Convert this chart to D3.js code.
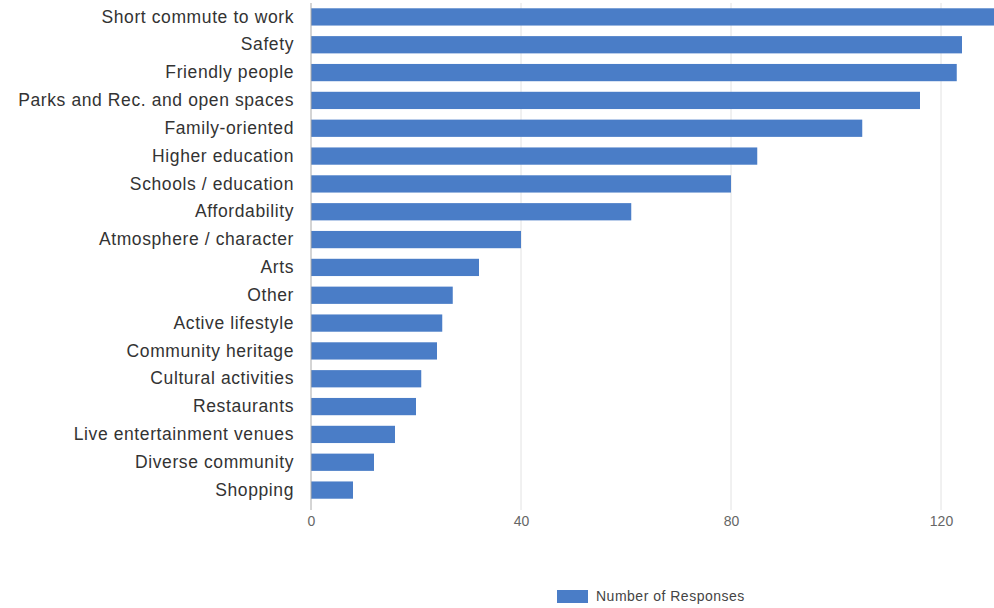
<!DOCTYPE html>
<html>
<head>
<meta charset="utf-8">
<script src="https://cdn.jsdelivr.net/npm/d3@7"></script>
<style>
  body { margin: 0; background: #fff; }
  text { font-family: "Liberation Sans", Arial, sans-serif; }
</style>
</head>
<body>
<svg width="994" height="608"></svg>
<script>
// categories and values
var categories = [
  "Short commute to work", "Safety", "Friendly people", "Parks and Rec. and open spaces",
  "Family-oriented", "Higher education", "Schools / education", "Affordability",
  "Atmosphere / character", "Arts", "Other", "Active lifestyle", "Community heritage",
  "Cultural activities", "Restaurants", "Live entertainment venues", "Diverse community", "Shopping"
];
var responses = [131, 124, 123, 116, 105, 85, 80, 61, 40, 32, 27, 25, 24, 21, 20, 16, 12, 8];
var xTicks = [0, 40, 80, 120];
var seriesName = "Number of Responses";

var svg = d3.select("svg"),
    barColor = "#4a7dc7";

var x = d3.scaleLinear().domain([0, 120]).range([311, 941]);
var y = d3.scaleBand().domain(categories).range([3, 504]).paddingInner(0.38).paddingOuter(0.19);

// gridlines
svg.append("g")
  .selectAll("line")
  .data(xTicks.filter(function(d) { return d > 0; }))
  .enter().append("line")
  .attr("x1", function(d) { return x(d); })
  .attr("x2", function(d) { return x(d); })
  .attr("y1", 3)
  .attr("y2", 510)
  .attr("stroke", "#e2e2e2")
  .attr("stroke-width", 1);

// bars
svg.append("g")
  .selectAll("rect")
  .data(responses)
  .enter().append("rect")
  .attr("x", x(0))
  .attr("y", function(d, i) { return y(categories[i]); })
  .attr("width", function(d) { return x(d) - x(0); })
  .attr("height", y.bandwidth())
  .attr("fill", barColor);

// zero baseline
svg.append("line")
  .attr("x1", x(0)).attr("x2", x(0))
  .attr("y1", 3).attr("y2", 510)
  .attr("stroke", "#aaa");

// category labels
var yAxis = svg.append("g")
  .attr("transform", "translate(" + (x(0) - 17) + ",0)")
  .call(d3.axisLeft(y).tickSize(0).tickPadding(0));
yAxis.select(".domain").remove();
yAxis.selectAll("text")
  .attr("font-size", 17.5)
  .attr("letter-spacing", 0.6)
  .attr("fill", "#333");

// x tick labels
var xAxis = svg.append("g")
  .attr("transform", "translate(0,512)")
  .call(d3.axisBottom(x).tickValues(xTicks).tickSize(0).tickPadding(4));
xAxis.select(".domain").remove();
xAxis.selectAll("text")
  .attr("font-size", 14)
  .attr("fill", "#666");

// legend
var legend = svg.append("g").attr("transform", "translate(557,590)");
legend.append("rect")
  .attr("width", 31).attr("height", 13)
  .attr("fill", barColor);
legend.append("text")
  .attr("x", 39).attr("y", 11)
  .attr("font-size", 14)
  .attr("letter-spacing", 0.5)
  .attr("fill", "#444")
  .text(seriesName);
</script>
</body>
</html>
